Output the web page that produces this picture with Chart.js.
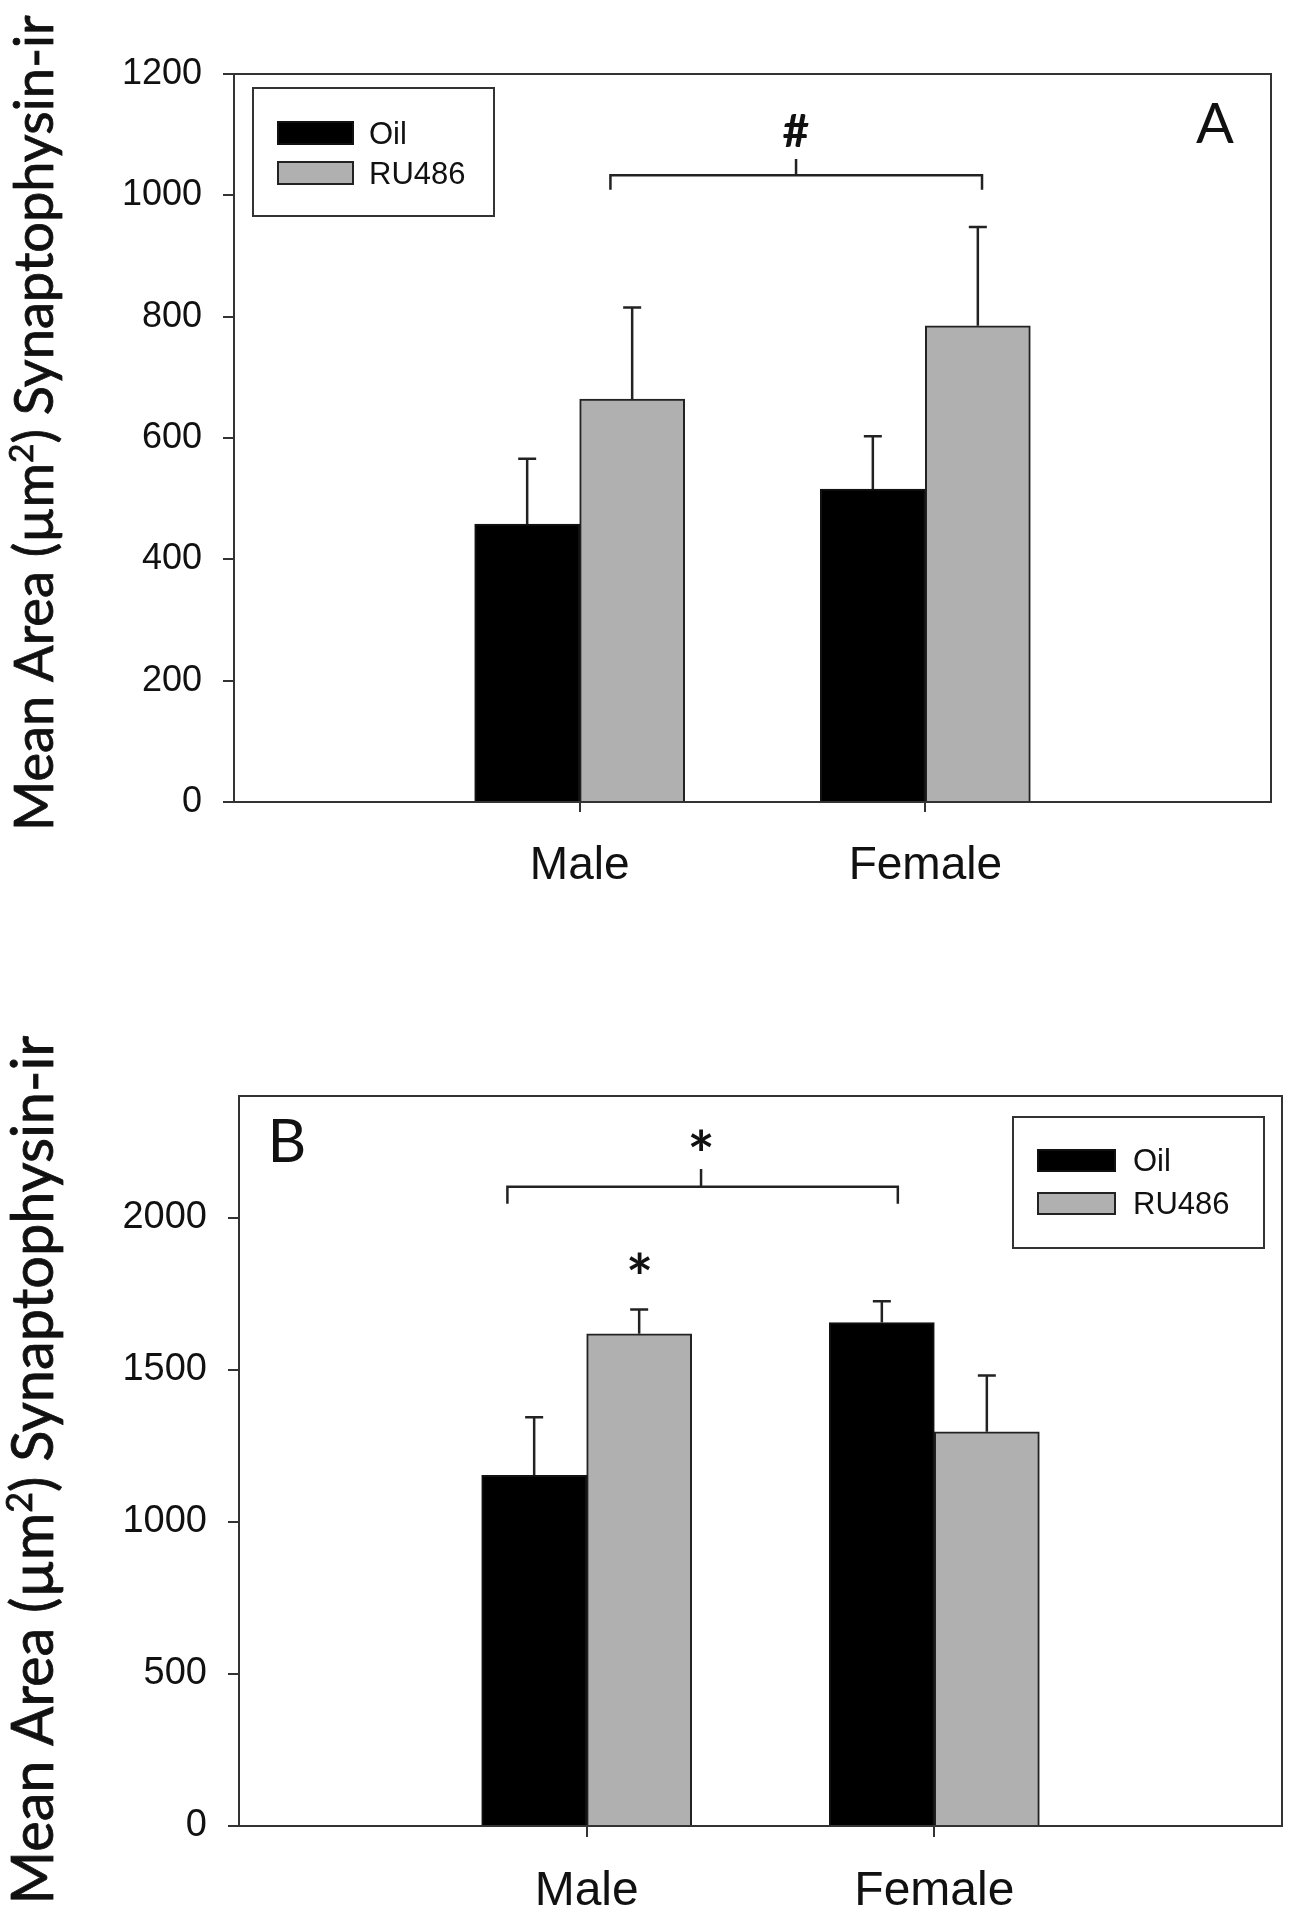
<!DOCTYPE html>
<html>
<head>
<meta charset="utf-8">
<script src="https://cdn.jsdelivr.net/npm/chart.js@4.4.0/dist/chart.umd.min.js"></script>
<style>
html,body{margin:0;padding:0;background:#fff;}
#wrap{position:relative;width:1292px;height:1920px;overflow:hidden;background:#fff;}
canvas{position:absolute;left:0;}
</style>
</head>
<body>
<div id="wrap">
<canvas id="cA" width="1292" height="960" style="top:0px"></canvas>
<canvas id="cB" width="1292" height="960" style="top:960px"></canvas>
</div>
<script>
// ---- data ----
const categories = ['Male', 'Female'];
const seriesNames = ['Oil', 'RU486'];

const oilA = [458, 516];
const oilErrA = [108, 87];
const ru486A = [664, 785];
const ru486ErrA = [151, 163];

const oilB = [1153, 1655];
const oilErrB = [191, 70];
const ru486B = [1618, 1296];
const ru486ErrB = [80, 185];

const yTicksA = [0, 200, 400, 600, 800, 1000, 1200];
const yTicksB = [0, 500, 1000, 1500, 2000];

const yTitleParts = ['Mean Area (µm', '2', ') Synaptophysin-ir'];

// ---- drawing helpers ----
const ARIAL = "'Liberation Sans', Arial, sans-serif";
const CAL = "Lato, 'Open Sans', sans-serif";

function drawCentered(ctx, text, cx, cy, font) {
  ctx.font = font;
  ctx.textAlign = 'left';
  ctx.textBaseline = 'alphabetic';
  const m = ctx.measureText(text);
  const x = cx - (m.actualBoundingBoxRight - m.actualBoundingBoxLeft) / 2;
  const y = cy + (m.actualBoundingBoxAscent - m.actualBoundingBoxDescent) / 2;
  ctx.fillText(text, x, y);
}

function drawYTitle(ctx, cx, cy, targetLen) {
  const scales = [1, 0.62, 1];
  const raises = [0, 0.36, 0];
  const base = 100;
  let total = 0;
  yTitleParts.forEach((t, i) => {
    ctx.font = (base * scales[i]) + 'px ' + CAL;
    total += ctx.measureText(t).width;
  });
  const size = base * targetLen / total;
  ctx.save();
  ctx.translate(cx, cy);
  ctx.rotate(-Math.PI / 2);
  ctx.fillStyle = '#111';
  ctx.strokeStyle = '#111';
  ctx.lineWidth = 0.8;
  ctx.textAlign = 'left';
  ctx.textBaseline = 'alphabetic';
  let x = -targetLen / 2;
  yTitleParts.forEach((t, i) => {
    ctx.font = (size * scales[i]) + 'px ' + CAL;
    ctx.fillText(t, x, -raises[i] * size);
    ctx.strokeText(t, x, -raises[i] * size);
    x += ctx.measureText(t).width;
  });
  ctx.restore();
}

const panelPlugin = {
  id: 'panel',
  afterDatasetsDraw(chart, args, o) {
    const ctx = chart.ctx, xs = chart.scales.x, ys = chart.scales.y, ca = chart.chartArea;
    ctx.save();
    // error bars (one-sided, upward)
    ctx.strokeStyle = '#222';
    ctx.lineWidth = 2.5;
    chart.data.datasets.forEach((ds, di) => {
      chart.getDatasetMeta(di).data.forEach((bar, i) => {
        const v = ds.data[i], e = ds.errors[i];
        if (v == null || e == null) return;
        const yt = ys.getPixelForValue(v + e);
        ctx.beginPath();
        ctx.moveTo(bar.x, bar.y);
        ctx.lineTo(bar.x, yt);
        ctx.moveTo(bar.x - o.cap, yt);
        ctx.lineTo(bar.x + o.cap, yt);
        ctx.stroke();
      });
    });
    // frame
    ctx.strokeStyle = '#333';
    ctx.lineWidth = 2;
    ctx.strokeRect(ca.left, ca.top, ca.right - ca.left, ca.bottom - ca.top);
    // bracket
    const b = o.bracket;
    const xl = xs.getPixelForValue(b.from), xr = xs.getPixelForValue(b.to), xm = xs.getPixelForValue(b.mid);
    const yb = ys.getPixelForValue(b.y), ye = ys.getPixelForValue(b.endY), ytop = ys.getPixelForValue(b.topY);
    ctx.strokeStyle = '#222';
    ctx.lineWidth = 2.5;
    ctx.beginPath();
    ctx.moveTo(xl, ye); ctx.lineTo(xl, yb); ctx.lineTo(xr, yb); ctx.lineTo(xr, ye);
    ctx.moveTo(xm, yb); ctx.lineTo(xm, ytop);
    ctx.stroke();
    // significance marks
    ctx.fillStyle = '#111';
    o.marks.forEach(m => drawCentered(ctx, m.text, xs.getPixelForValue(m.x), ys.getPixelForValue(m.y), m.font));
    // legend
    const L = o.legend;
    const bx = L.anchor === 'right' ? ca.right - L.dx - L.w : ca.left + L.dx;
    const by = ca.top + L.dy;
    ctx.strokeStyle = '#333';
    ctx.lineWidth = 2;
    ctx.strokeRect(bx, by, L.w, L.h);
    chart.data.datasets.forEach((ds, i) => {
      const sy = by + L.rows[i];
      ctx.fillStyle = ds.backgroundColor;
      ctx.fillRect(bx + L.sx, sy, L.sw, L.sh);
      ctx.strokeStyle = ds.borderColor;
      ctx.lineWidth = 2;
      ctx.strokeRect(bx + L.sx, sy, L.sw, L.sh);
      ctx.fillStyle = '#111';
      ctx.font = L.font;
      ctx.textAlign = 'left';
      ctx.textBaseline = 'alphabetic';
      ctx.fillText(ds.label, bx + L.tx, sy + L.sh);
    });
    // panel letter
    ctx.fillStyle = '#111';
    ctx.font = o.letter.font;
    ctx.textAlign = 'center';
    ctx.textBaseline = 'alphabetic';
    ctx.fillText(o.letter.text, o.letter.x, o.letter.y);
    // y-axis title
    drawYTitle(ctx, o.title.x, o.title.y, o.title.len);
    ctx.restore();
  }
};

function makePanel(id, cfg) {
  const labels = ['', ...categories, ''];
  const pad = arr => [null, ...arr, null];
  return new Chart(document.getElementById(id), {
    type: 'bar',
    data: {
      labels: labels,
      datasets: [
        { label: seriesNames[0], data: pad(cfg.oil), errors: pad(cfg.oilErr),
          backgroundColor: '#000000', borderColor: '#111111', borderWidth: 2, barThickness: 105 },
        { label: seriesNames[1], data: pad(cfg.ru), errors: pad(cfg.ruErr),
          backgroundColor: '#b0b0b0', borderColor: '#222222', borderWidth: 2, barThickness: 105 }
      ]
    },
    options: {
      responsive: false,
      animation: false,
      devicePixelRatio: 1,
      layout: { padding: cfg.padding },
      plugins: {
        legend: { display: false },
        tooltip: { enabled: false },
        panel: cfg.panel
      },
      scales: {
        x: {
          offset: false,
          grid: {
            offset: false, drawOnChartArea: false, tickLength: cfg.xTickLen, lineWidth: 2,
            color: c => (c.tick && c.tick.label) ? '#333' : 'rgba(0,0,0,0)'
          },
          border: { display: false },
          ticks: { autoSkip: false, maxRotation: 0, minRotation: 0, padding: cfg.xPad, color: '#111',
                   font: { family: ARIAL, size: cfg.xFont } },
          afterFit: s => { s.height = cfg.xH; s.paddingLeft = 0; s.paddingRight = 0; }
        },
        y: {
          min: 0, max: cfg.max,
          afterBuildTicks: s => { s.ticks = cfg.yTicks.map(v => ({ value: v })); },
          grid: { drawOnChartArea: false, tickLength: 11, lineWidth: 2, color: '#333' },
          border: { display: false },
          ticks: { padding: 21, color: '#111', font: { family: ARIAL, size: cfg.yFont },
                   callback: v => String(v) },
          afterFit: s => { s.width = cfg.yW; s.paddingTop = 0; s.paddingBottom = 0; }
        }
      }
    },
    plugins: [panelPlugin]
  });
}

makePanel('cA', {
  oil: oilA, oilErr: oilErrA, ru: ru486A, ruErr: ru486ErrA,
  max: 1200, yTicks: yTicksA,
  padding: { left: 0, right: 21, top: 74, bottom: 38 },
  yW: 234, xH: 120, xTickLen: 10, xPad: 27, xFont: 46, yFont: 36,
  panel: {
    cap: 9,
    bracket: { from: 1.089, to: 2.164, mid: 1.626, y: 1033, endY: 1009, topY: 1060 },
    marks: [ { text: '#', x: 1.626, y: 1107, font: 'bold 46px ' + CAL } ],
    legend: { anchor: 'left', dx: 19, dy: 14, w: 241, h: 128, rows: [34, 74], sx: 25, sw: 75, sh: 22, tx: 116,
              font: '31px ' + ARIAL },
    letter: { text: 'A', x: 1215, y: 143, font: '56px ' + CAL },
    title: { x: 53, y: 423, len: 816 }
  }
});

makePanel('cB', {
  oil: oilB, oilErr: oilErrB, ru: ru486B, ruErr: ru486ErrB,
  max: 2400, yTicks: yTicksB,
  padding: { left: 0, right: 10, top: 136, bottom: 14 },
  yW: 239, xH: 80, xTickLen: 11, xPad: 26, xFont: 48, yFont: 38,
  panel: {
    cap: 9,
    bracket: { from: 0.772, to: 1.895, mid: 1.329, y: 2102, endY: 2046, topY: 2160 },
    marks: [
      { text: '*', x: 1.329, y: 2256, font: 'bold 64px ' + CAL },
      { text: '*', x: 1.152, y: 1852, font: 'bold 64px ' + CAL }
    ],
    legend: { anchor: 'right', dx: 18, dy: 21, w: 251, h: 131, rows: [33, 76], sx: 25, sw: 77, sh: 21, tx: 120,
              font: '31px ' + ARIAL },
    letter: { text: 'B', x: 287, y: 202, font: '60px ' + CAL },
    title: { x: 53, y: 510, len: 869 }
  }
});
</script>
</body>
</html>
